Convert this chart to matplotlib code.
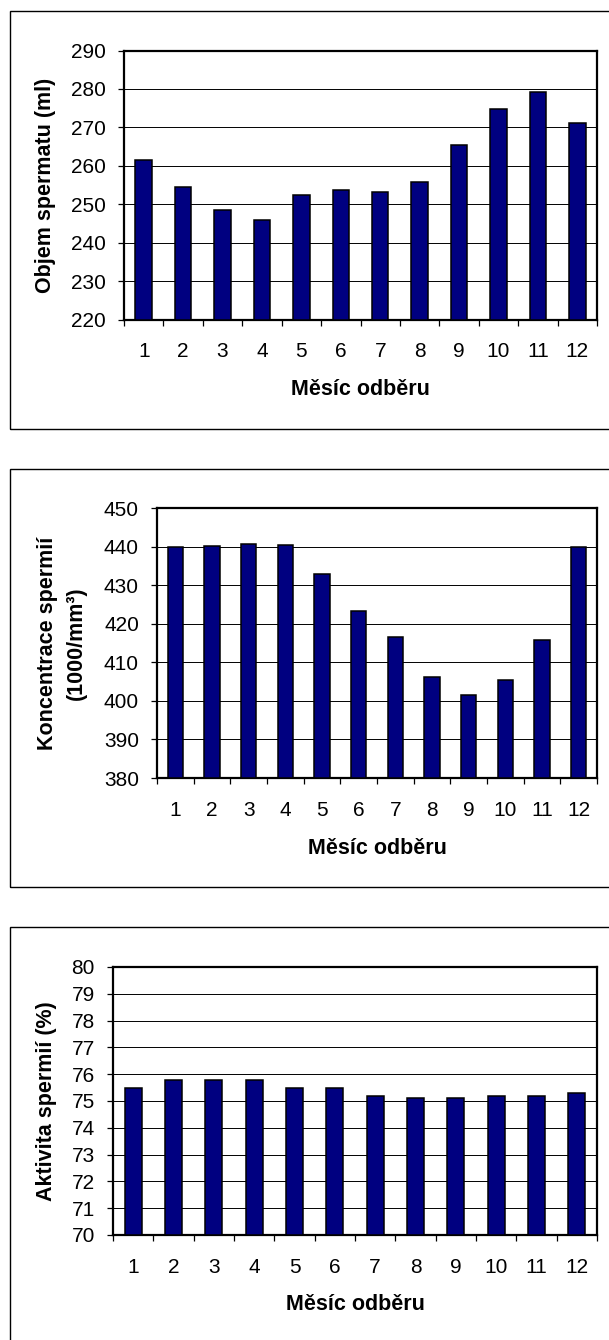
import matplotlib.pyplot as plt
from matplotlib.patches import Rectangle

plt.rcParams['font.family'] = ['Liberation Sans', 'DejaVu Sans']

months = [1, 2, 3, 4, 5, 6, 7, 8, 9, 10, 11, 12]
objem = [261.5, 254.4, 248.4, 246.0, 252.4, 253.8, 253.3, 255.9, 265.3, 274.9, 279.3, 271.1]
koncentrace = [440.0, 440.2, 440.7, 440.5, 433.0, 423.4, 416.5, 406.3, 401.5, 405.4, 415.9, 440.0]
aktivita = [75.5, 75.8, 75.8, 75.8, 75.5, 75.5, 75.2, 75.1, 75.1, 75.2, 75.2, 75.3]

W, H = 609, 1340
fig = plt.figure(figsize=(W / 100, H / 100), dpi=100)


def px_rect(left, top, right, bottom):
    return [left / W, 1 - bottom / H, (right - left) / W, (bottom - top) / H]


def panel(box, axrect, values, ylim, ystep, ylabels, ylabel_x):
    # outer frame round the whole chart
    bx0, by0, by1 = box
    fig.patches.append(Rectangle((bx0 / W, 1 - by1 / H), (W + 10 - bx0) / W, (by1 - by0) / H,
                                 transform=fig.transFigure, fill=False, edgecolor='black',
                                 linewidth=1.0, figure=fig))
    left, top, right, bottom = axrect
    ax = fig.add_axes(px_rect(left, top, right, bottom))
    ax.bar(months, [v - ylim[0] for v in values], bottom=ylim[0], width=0.42,
           color='#000080', edgecolor='black', linewidth=1.1, zorder=3)
    ax.set_xlim(0.5, 12.5)
    ax.set_ylim(*ylim)
    yt = list(range(ylim[0], ylim[1] + 1, ystep))
    ax.set_yticks(yt)
    ax.set_yticklabels([str(t) for t in yt])
    for t in yt[1:-1]:
        ax.axhline(t, color='black', linewidth=0.7, zorder=1)
    ax.set_xticks([m + 0.5 for m in [0] + months])
    ax.set_xticklabels([])
    ax.set_xticks(months, minor=True)
    ax.set_xticklabels([str(m) for m in months], minor=True)
    ax.tick_params(axis='x', which='major', direction='out', length=4.5, width=0.9, color='black')
    ax.tick_params(axis='x', which='minor', length=0, pad=16.5, labelsize=15)
    ax.tick_params(axis='y', direction='out', length=4.5, width=0.9, pad=8.5, labelsize=15)
    for s in ax.spines.values():
        s.set_linewidth(1.6)
        s.set_color('black')
    # axis titles
    fig.text(((left + right) / 2) / W, 1 - (bottom + 75.5) / H, 'Měsíc odběru',
             ha='center', va='baseline', fontsize=15.5, fontweight='bold')
    yc = 1 - ((top + bottom) / 2) / H
    for x, txt in zip(ylabel_x, ylabels):
        fig.text(x / W, yc, txt, rotation=90, ha='center', va='center',
                 fontsize=15.5, fontweight='bold')
    return ax


panel((9.5, 11, 429), (124, 50.5, 597, 319.5), objem, (220, 290), 10,
      ['Objem spermatu (ml)'], [46])
panel((9.5, 469, 887), (157, 508, 597, 778), koncentrace, (380, 450), 10,
      ['Koncentrace spermií', '(1000/mm³)'], [48, 76])
panel((9.5, 927, 1345), (113, 967, 597, 1235), aktivita, (70, 80), 1,
      ['Aktivita spermií (%)'], [47])

plt.savefig('out.png', dpi=100)
